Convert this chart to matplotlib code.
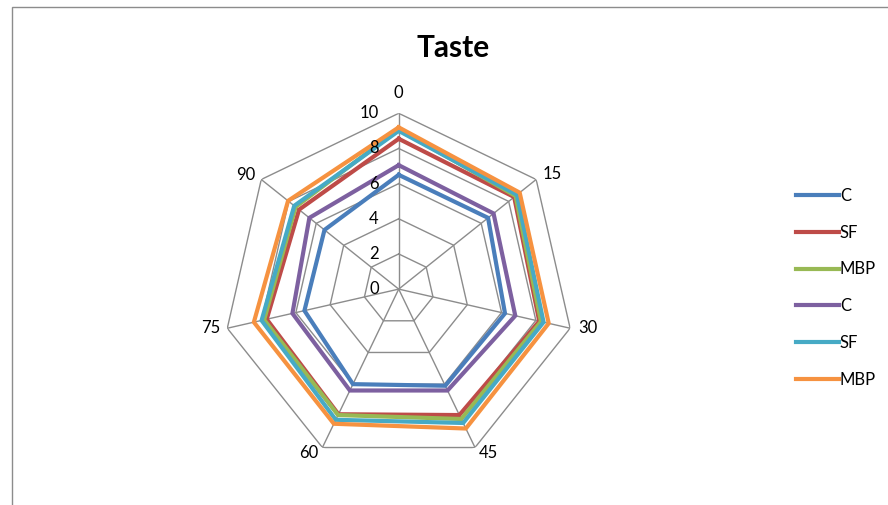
import numpy as np
import matplotlib
matplotlib.use("Agg")
import matplotlib.pyplot as plt
from matplotlib.patches import Rectangle

plt.rcParams['font.family'] = ['Lato', 'DejaVu Sans']

categories = ["0", "15", "30", "45", "60", "75", "90"]
series_names = ["C", "SF", "MBP", "C", "SF", "MBP"]
c1 = [6.5, 6.5, 6.2, 6.1, 6.0, 5.5, 5.4]
sf1 = [8.55, 8.4, 8.2, 7.95, 7.9, 7.7, 7.25]
mbp1 = [9.1, 8.5, 8.3, 8.2, 7.95, 7.85, 7.5]
c2 = [7.05, 6.9, 6.8, 6.4, 6.4, 6.2, 6.5]
sf2 = [9.0, 8.6, 8.45, 8.45, 8.25, 8.0, 7.6]
mbp2 = [9.2, 8.8, 8.75, 8.8, 8.5, 8.45, 8.05]
series_values = [c1, sf1, mbp1, c2, sf2, mbp2]
radial_ticks = [0, 2, 4, 6, 8, 10]
colors = ["#4A7EBB", "#BE4B48", "#98B954", "#7D60A0", "#46AAC5", "#F69240"]

# category label placement next to each outer vertex (pixel offsets, alignment)
label_offsets = [(0, 12), (6, 5), (8, 0), (4, -5), (-4, -5), (-7, 0), (-6, 4)]
label_ha = ["center", "left", "left", "left", "right", "right", "right"]
label_va = ["bottom", "center", "center", "center", "center", "center", "center"]

fig = plt.figure(figsize=(8.88, 5.05), dpi=100)
fig.patch.set_facecolor("white")

# chart area border
fig.add_artist(Rectangle((12 / 888, -0.05), 1.1, 1 - 7 / 505 + 0.05,
                         transform=fig.transFigure, fill=False,
                         edgecolor="#8C8C8C", lw=1.0))

ax = fig.add_axes([0.251, 0.079, 0.396, 0.697], projection="polar")
ax.set_theta_offset(np.pi / 2)
ax.set_theta_direction(-1)
ax.set_ylim(0, 10)
ax.grid(False)
ax.spines["polar"].set_visible(False)
ax.set_xticks([])
ax.set_yticks([])
ax.patch.set_alpha(0)

n = len(categories)
theta = np.arange(n) * 2 * np.pi / n
theta_closed = np.append(theta, theta[0])

grid_col = "#8C8C8C"
for r in radial_ticks[1:]:
    ax.plot(theta_closed, [r] * (n + 1), color=grid_col, lw=1.0, zorder=1)
for t in theta:
    ax.plot([t, t], [0, 10], color=grid_col, lw=1.0, zorder=1)

for vals, col, name in zip(series_values, colors, series_names):
    ax.plot(theta_closed, list(vals) + [vals[0]], color=col, lw=3.0,
            label=name, zorder=3, solid_joinstyle="miter")

for r in radial_ticks:
    ax.annotate(str(r), xy=(0, r), xytext=(-20, 0), textcoords="offset pixels",
                ha="right", va="center", fontsize=12, color="black",
                annotation_clip=False)

for t, lab, off, ha, va in zip(theta, categories, label_offsets, label_ha, label_va):
    ax.annotate(lab, xy=(t, 10), xytext=off, textcoords="offset pixels",
                ha=ha, va=va, fontsize=12, color="black",
                annotation_clip=False)

fig.text(0.51, 0.905, "Taste", ha="center", va="center", fontsize=21.5,
         fontweight="bold", color="black")

handles, labels = ax.get_legend_handles_labels()
leg = fig.legend(handles, labels, loc="center left",
                 bbox_to_anchor=(0.889, 0.43), frameon=False, fontsize=12,
                 handlelength=2.58, handletextpad=0.05, labelspacing=1.25,
                 borderaxespad=0)
for h in leg.get_lines():
    h.set_linewidth(3.0)

fig.savefig("out.png", dpi=100)
